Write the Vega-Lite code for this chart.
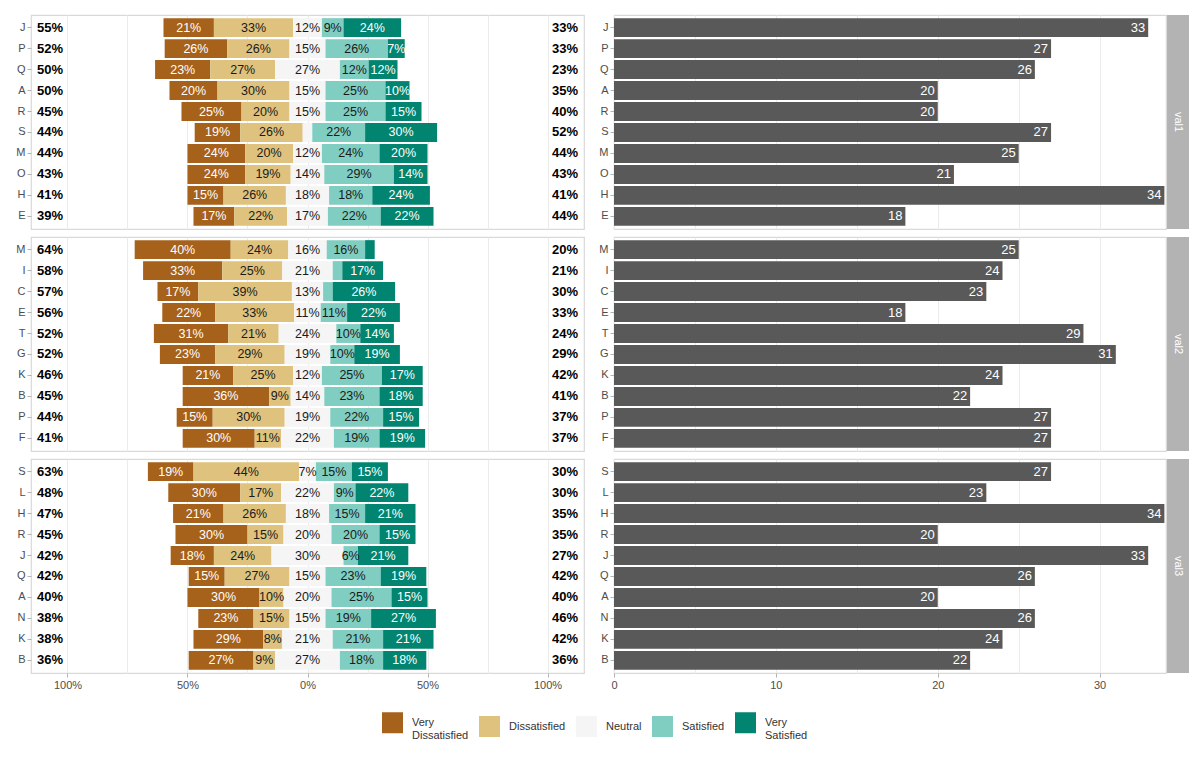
{
  "$schema": "https://vega.github.io/schema/vega-lite/v6.json",
  "padding": {"top": 14, "left": 15, "right": 10, "bottom": 10},
  "background": "white",
  "datasets": {
    "d": [
      {"g": "val1", "q": "J", "Very Dissatisfied": 21, "Dissatisfied": 33, "Neutral": 12, "Satisfied": 9, "Very Satisfied": 24, "lo": 55, "hi": 33, "n": 33},
      {"g": "val1", "q": "P", "Very Dissatisfied": 26, "Dissatisfied": 26, "Neutral": 15, "Satisfied": 26, "Very Satisfied": 7, "lo": 52, "hi": 33, "n": 27},
      {"g": "val1", "q": "Q", "Very Dissatisfied": 23, "Dissatisfied": 27, "Neutral": 27, "Satisfied": 12, "Very Satisfied": 12, "lo": 50, "hi": 23, "n": 26},
      {"g": "val1", "q": "A", "Very Dissatisfied": 20, "Dissatisfied": 30, "Neutral": 15, "Satisfied": 25, "Very Satisfied": 10, "lo": 50, "hi": 35, "n": 20},
      {"g": "val1", "q": "R", "Very Dissatisfied": 25, "Dissatisfied": 20, "Neutral": 15, "Satisfied": 25, "Very Satisfied": 15, "lo": 45, "hi": 40, "n": 20},
      {"g": "val1", "q": "S", "Very Dissatisfied": 19, "Dissatisfied": 26, "Neutral": 4, "Satisfied": 22, "Very Satisfied": 30, "lo": 44, "hi": 52, "n": 27},
      {"g": "val1", "q": "M", "Very Dissatisfied": 24, "Dissatisfied": 20, "Neutral": 12, "Satisfied": 24, "Very Satisfied": 20, "lo": 44, "hi": 44, "n": 25},
      {"g": "val1", "q": "O", "Very Dissatisfied": 24, "Dissatisfied": 19, "Neutral": 14, "Satisfied": 29, "Very Satisfied": 14, "lo": 43, "hi": 43, "n": 21},
      {"g": "val1", "q": "H", "Very Dissatisfied": 15, "Dissatisfied": 26, "Neutral": 18, "Satisfied": 18, "Very Satisfied": 24, "lo": 41, "hi": 41, "n": 34},
      {"g": "val1", "q": "E", "Very Dissatisfied": 17, "Dissatisfied": 22, "Neutral": 17, "Satisfied": 22, "Very Satisfied": 22, "lo": 39, "hi": 44, "n": 18},
      {"g": "val2", "q": "M", "Very Dissatisfied": 40, "Dissatisfied": 24, "Neutral": 16, "Satisfied": 16, "Very Satisfied": 4, "lo": 64, "hi": 20, "n": 25},
      {"g": "val2", "q": "I", "Very Dissatisfied": 33, "Dissatisfied": 25, "Neutral": 21, "Satisfied": 4, "Very Satisfied": 17, "lo": 58, "hi": 21, "n": 24},
      {"g": "val2", "q": "C", "Very Dissatisfied": 17, "Dissatisfied": 39, "Neutral": 13, "Satisfied": 4, "Very Satisfied": 26, "lo": 57, "hi": 30, "n": 23},
      {"g": "val2", "q": "E", "Very Dissatisfied": 22, "Dissatisfied": 33, "Neutral": 11, "Satisfied": 11, "Very Satisfied": 22, "lo": 56, "hi": 33, "n": 18},
      {"g": "val2", "q": "T", "Very Dissatisfied": 31, "Dissatisfied": 21, "Neutral": 24, "Satisfied": 10, "Very Satisfied": 14, "lo": 52, "hi": 24, "n": 29},
      {"g": "val2", "q": "G", "Very Dissatisfied": 23, "Dissatisfied": 29, "Neutral": 19, "Satisfied": 10, "Very Satisfied": 19, "lo": 52, "hi": 29, "n": 31},
      {"g": "val2", "q": "K", "Very Dissatisfied": 21, "Dissatisfied": 25, "Neutral": 12, "Satisfied": 25, "Very Satisfied": 17, "lo": 46, "hi": 42, "n": 24},
      {"g": "val2", "q": "B", "Very Dissatisfied": 36, "Dissatisfied": 9, "Neutral": 14, "Satisfied": 23, "Very Satisfied": 18, "lo": 45, "hi": 41, "n": 22},
      {"g": "val2", "q": "P", "Very Dissatisfied": 15, "Dissatisfied": 30, "Neutral": 19, "Satisfied": 22, "Very Satisfied": 15, "lo": 44, "hi": 37, "n": 27},
      {"g": "val2", "q": "F", "Very Dissatisfied": 30, "Dissatisfied": 11, "Neutral": 22, "Satisfied": 19, "Very Satisfied": 19, "lo": 41, "hi": 37, "n": 27},
      {"g": "val3", "q": "S", "Very Dissatisfied": 19, "Dissatisfied": 44, "Neutral": 7, "Satisfied": 15, "Very Satisfied": 15, "lo": 63, "hi": 30, "n": 27},
      {"g": "val3", "q": "L", "Very Dissatisfied": 30, "Dissatisfied": 17, "Neutral": 22, "Satisfied": 9, "Very Satisfied": 22, "lo": 48, "hi": 30, "n": 23},
      {"g": "val3", "q": "H", "Very Dissatisfied": 21, "Dissatisfied": 26, "Neutral": 18, "Satisfied": 15, "Very Satisfied": 21, "lo": 47, "hi": 35, "n": 34},
      {"g": "val3", "q": "R", "Very Dissatisfied": 30, "Dissatisfied": 15, "Neutral": 20, "Satisfied": 20, "Very Satisfied": 15, "lo": 45, "hi": 35, "n": 20},
      {"g": "val3", "q": "J", "Very Dissatisfied": 18, "Dissatisfied": 24, "Neutral": 30, "Satisfied": 6, "Very Satisfied": 21, "lo": 42, "hi": 27, "n": 33},
      {"g": "val3", "q": "Q", "Very Dissatisfied": 15, "Dissatisfied": 27, "Neutral": 15, "Satisfied": 23, "Very Satisfied": 19, "lo": 42, "hi": 42, "n": 26},
      {"g": "val3", "q": "A", "Very Dissatisfied": 30, "Dissatisfied": 10, "Neutral": 20, "Satisfied": 25, "Very Satisfied": 15, "lo": 40, "hi": 40, "n": 20},
      {"g": "val3", "q": "N", "Very Dissatisfied": 23, "Dissatisfied": 15, "Neutral": 15, "Satisfied": 19, "Very Satisfied": 27, "lo": 38, "hi": 46, "n": 26},
      {"g": "val3", "q": "K", "Very Dissatisfied": 29, "Dissatisfied": 8, "Neutral": 21, "Satisfied": 21, "Very Satisfied": 21, "lo": 38, "hi": 42, "n": 24},
      {"g": "val3", "q": "B", "Very Dissatisfied": 27, "Dissatisfied": 9, "Neutral": 27, "Satisfied": 18, "Very Satisfied": 18, "lo": 36, "hi": 36, "n": 22}
    ]
  },
  "data": {"name": "d"},
  "spacing": 6,
  "vconcat": [
    {
      "spacing": 13,
      "hconcat": [
        {
          "width": 553, "height": 214,
          "transform": [{"filter": "datum.g == 'val1'"}],
          "encoding": {"y": {"field": "q", "type": "nominal", "title": null, "sort": ["J","P","Q","A","R","S","M","O","H","E"], "scale": {"paddingInner": 0.1, "paddingOuter": 0.15}}},
          "layer": [
            {
              "transform": [
                {"fold": ["Very Dissatisfied","Dissatisfied","Neutral","Satisfied","Very Satisfied"], "as": ["cat","pct"]},
                {"calculate": "indexof(['Very Dissatisfied','Dissatisfied','Neutral','Satisfied','Very Satisfied'], datum.cat)", "as": "ord"},
                {"stack": "pct", "groupby": ["q"], "sort": [{"field": "ord", "order": "ascending"}], "as": ["s0","s1"], "offset": "zero"},
                {"calculate": "datum.ord < 2 ? datum.pct : (datum.ord == 2 ? datum.pct / 2 : 0)", "as": "neg"},
                {"joinaggregate": [{"op": "sum", "field": "neg", "as": "shift"}], "groupby": ["q"]},
                {"calculate": "datum.s0 - datum.shift", "as": "x0"},
                {"calculate": "datum.s1 - datum.shift", "as": "x1"},
                {"calculate": "(datum.x0 + datum.x1) / 2", "as": "xm"},
                {"calculate": "datum.pct + '%'", "as": "lab"}
              ],
              "layer": [
                {
                  "mark": {"type": "bar"},
                  "encoding": {
                    "x": {"field": "x0", "type": "quantitative", "scale": {"domain": [-115.2, 115.2], "nice": false, "zero": false},
                      "axis": {"values": [-100,-75,-50,-25,0,25,50,75,100], "labels": false, "ticks": false, "domain": false, "grid": true, "title": null}},
                    "x2": {"field": "x1"},
                    "color": {"field": "cat", "type": "nominal",
                      "scale": {"domain": ["Very Dissatisfied","Dissatisfied","Neutral","Satisfied","Very Satisfied"], "range": ["#a6611a","#dfc27d","#f5f5f5","#80cdc1","#018571"]},
                      "legend": {"title": null, "orient": "none", "legendX": 351, "legendY": 697, "direction": "horizontal", "padding": 0,
                        "labelExpr": "datum.label == 'Very Dissatisfied' ? ['Very', '\u00a0Dissatisfied'] : (datum.label == 'Very Satisfied' ? ['Very', '\u00a0Satisfied'] : datum.label)"}}
                  }
                },
                {
                  "transform": [{"filter": "datum.pct >= 5"}],
                  "mark": {"type": "text", "fontSize": 12.5},
                  "encoding": {
                    "x": {"field": "xm", "type": "quantitative"},
                    "text": {"field": "lab"},
                    "color": {"condition": {"test": "datum.ord == 0 || datum.ord == 4", "value": "#ffffff"}, "value": "#1a1a1a"}
                  }
                }
              ]
            },
            {
              "transform": [{"calculate": "datum.lo + '%'", "as": "lab"}],
              "mark": {"type": "text", "fontSize": 13, "fontWeight": "bold", "color": "#000000"},
              "encoding": {"x": {"datum": -107.3, "type": "quantitative"}, "text": {"field": "lab"}}
            },
            {
              "transform": [{"calculate": "datum.hi + '%'", "as": "lab"}],
              "mark": {"type": "text", "fontSize": 13, "fontWeight": "bold", "color": "#000000"},
              "encoding": {"x": {"datum": 107.3, "type": "quantitative"}, "text": {"field": "lab"}}
            }
          ]
        },
        {
          "spacing": 0,
          "hconcat": [
            {
              "width": 552, "height": 214,
              "transform": [{"filter": "datum.g == 'val1'"}],
              "encoding": {
                "y": {"field": "q", "type": "nominal", "title": null, "sort": ["J","P","Q","A","R","S","M","O","H","E"], "scale": {"paddingInner": 0.1, "paddingOuter": 0.15}},
                "x": {"field": "n", "type": "quantitative", "scale": {"domain": [0, 34.1], "nice": false},
                  "axis": {"values": [0,5,10,15,20,25,30], "labels": false, "ticks": false, "domain": false, "grid": true, "title": null}}
              },
              "layer": [
                {"mark": {"type": "bar", "color": "#595959"}},
                {"mark": {"type": "text", "align": "right", "dx": -3, "color": "#ffffff", "fontSize": 13}, "encoding": {"text": {"field": "n"}}}
              ]
            },
            {
              "width": 22, "height": 214,
              "view": {"fill": "#b3b3b3", "stroke": null},
              "transform": [{"filter": "datum.g == 'val1'"}, {"aggregate": [{"op": "count", "as": "c"}], "groupby": ["g"]}],
              "mark": {"type": "text", "angle": 90, "color": "#ffffff", "fontSize": 11},
              "encoding": {"text": {"field": "g"}}
            }
          ]
        }
      ]
    },
    {
      "spacing": 13,
      "hconcat": [
        {
          "width": 553, "height": 214,
          "transform": [{"filter": "datum.g == 'val2'"}],
          "encoding": {"y": {"field": "q", "type": "nominal", "title": null, "sort": ["M","I","C","E","T","G","K","B","P","F"], "scale": {"paddingInner": 0.1, "paddingOuter": 0.15}}},
          "layer": [
            {
              "transform": [
                {"fold": ["Very Dissatisfied","Dissatisfied","Neutral","Satisfied","Very Satisfied"], "as": ["cat","pct"]},
                {"calculate": "indexof(['Very Dissatisfied','Dissatisfied','Neutral','Satisfied','Very Satisfied'], datum.cat)", "as": "ord"},
                {"stack": "pct", "groupby": ["q"], "sort": [{"field": "ord", "order": "ascending"}], "as": ["s0","s1"], "offset": "zero"},
                {"calculate": "datum.ord < 2 ? datum.pct : (datum.ord == 2 ? datum.pct / 2 : 0)", "as": "neg"},
                {"joinaggregate": [{"op": "sum", "field": "neg", "as": "shift"}], "groupby": ["q"]},
                {"calculate": "datum.s0 - datum.shift", "as": "x0"},
                {"calculate": "datum.s1 - datum.shift", "as": "x1"},
                {"calculate": "(datum.x0 + datum.x1) / 2", "as": "xm"},
                {"calculate": "datum.pct + '%'", "as": "lab"}
              ],
              "layer": [
                {
                  "mark": {"type": "bar"},
                  "encoding": {
                    "x": {"field": "x0", "type": "quantitative", "scale": {"domain": [-115.2, 115.2], "nice": false, "zero": false},
                      "axis": {"values": [-100,-75,-50,-25,0,25,50,75,100], "labels": false, "ticks": false, "domain": false, "grid": true, "title": null}},
                    "x2": {"field": "x1"},
                    "color": {"field": "cat", "type": "nominal",
                      "scale": {"domain": ["Very Dissatisfied","Dissatisfied","Neutral","Satisfied","Very Satisfied"], "range": ["#a6611a","#dfc27d","#f5f5f5","#80cdc1","#018571"]},
                      "legend": {"title": null, "orient": "none", "legendX": 351, "legendY": 697, "direction": "horizontal", "padding": 0,
                        "labelExpr": "datum.label == 'Very Dissatisfied' ? ['Very', '\u00a0Dissatisfied'] : (datum.label == 'Very Satisfied' ? ['Very', '\u00a0Satisfied'] : datum.label)"}}
                  }
                },
                {
                  "transform": [{"filter": "datum.pct >= 5"}],
                  "mark": {"type": "text", "fontSize": 12.5},
                  "encoding": {
                    "x": {"field": "xm", "type": "quantitative"},
                    "text": {"field": "lab"},
                    "color": {"condition": {"test": "datum.ord == 0 || datum.ord == 4", "value": "#ffffff"}, "value": "#1a1a1a"}
                  }
                }
              ]
            },
            {
              "transform": [{"calculate": "datum.lo + '%'", "as": "lab"}],
              "mark": {"type": "text", "fontSize": 13, "fontWeight": "bold", "color": "#000000"},
              "encoding": {"x": {"datum": -107.3, "type": "quantitative"}, "text": {"field": "lab"}}
            },
            {
              "transform": [{"calculate": "datum.hi + '%'", "as": "lab"}],
              "mark": {"type": "text", "fontSize": 13, "fontWeight": "bold", "color": "#000000"},
              "encoding": {"x": {"datum": 107.3, "type": "quantitative"}, "text": {"field": "lab"}}
            }
          ]
        },
        {
          "spacing": 0,
          "hconcat": [
            {
              "width": 552, "height": 214,
              "transform": [{"filter": "datum.g == 'val2'"}],
              "encoding": {
                "y": {"field": "q", "type": "nominal", "title": null, "sort": ["M","I","C","E","T","G","K","B","P","F"], "scale": {"paddingInner": 0.1, "paddingOuter": 0.15}},
                "x": {"field": "n", "type": "quantitative", "scale": {"domain": [0, 34.1], "nice": false},
                  "axis": {"values": [0,5,10,15,20,25,30], "labels": false, "ticks": false, "domain": false, "grid": true, "title": null}}
              },
              "layer": [
                {"mark": {"type": "bar", "color": "#595959"}},
                {"mark": {"type": "text", "align": "right", "dx": -3, "color": "#ffffff", "fontSize": 13}, "encoding": {"text": {"field": "n"}}}
              ]
            },
            {
              "width": 22, "height": 214,
              "view": {"fill": "#b3b3b3", "stroke": null},
              "transform": [{"filter": "datum.g == 'val2'"}, {"aggregate": [{"op": "count", "as": "c"}], "groupby": ["g"]}],
              "mark": {"type": "text", "angle": 90, "color": "#ffffff", "fontSize": 11},
              "encoding": {"text": {"field": "g"}}
            }
          ]
        }
      ]
    },
    {
      "spacing": 13,
      "hconcat": [
        {
          "width": 553, "height": 214,
          "transform": [{"filter": "datum.g == 'val3'"}],
          "encoding": {"y": {"field": "q", "type": "nominal", "title": null, "sort": ["S","L","H","R","J","Q","A","N","K","B"], "scale": {"paddingInner": 0.1, "paddingOuter": 0.15}}},
          "layer": [
            {
              "transform": [
                {"fold": ["Very Dissatisfied","Dissatisfied","Neutral","Satisfied","Very Satisfied"], "as": ["cat","pct"]},
                {"calculate": "indexof(['Very Dissatisfied','Dissatisfied','Neutral','Satisfied','Very Satisfied'], datum.cat)", "as": "ord"},
                {"stack": "pct", "groupby": ["q"], "sort": [{"field": "ord", "order": "ascending"}], "as": ["s0","s1"], "offset": "zero"},
                {"calculate": "datum.ord < 2 ? datum.pct : (datum.ord == 2 ? datum.pct / 2 : 0)", "as": "neg"},
                {"joinaggregate": [{"op": "sum", "field": "neg", "as": "shift"}], "groupby": ["q"]},
                {"calculate": "datum.s0 - datum.shift", "as": "x0"},
                {"calculate": "datum.s1 - datum.shift", "as": "x1"},
                {"calculate": "(datum.x0 + datum.x1) / 2", "as": "xm"},
                {"calculate": "datum.pct + '%'", "as": "lab"}
              ],
              "layer": [
                {
                  "mark": {"type": "bar"},
                  "encoding": {
                    "x": {"field": "x0", "type": "quantitative", "scale": {"domain": [-115.2, 115.2], "nice": false, "zero": false},
                      "axis": {"values": [-100,-75,-50,-25,0,25,50,75,100], "grid": true, "title": null, "domain": false, "labelFlush": false,
                        "labelExpr": "datum.value % 50 == 0 ? abs(datum.value) + '%' : ''",
                        "tickColor": {"condition": {"test": "datum.value % 50 == 0", "value": "#b3b3b3"}, "value": "rgba(0,0,0,0)"}}},
                    "x2": {"field": "x1"},
                    "color": {"field": "cat", "type": "nominal",
                      "scale": {"domain": ["Very Dissatisfied","Dissatisfied","Neutral","Satisfied","Very Satisfied"], "range": ["#a6611a","#dfc27d","#f5f5f5","#80cdc1","#018571"]},
                      "legend": {"title": null, "orient": "none", "legendX": 351, "legendY": 697, "direction": "horizontal", "padding": 0,
                        "labelExpr": "datum.label == 'Very Dissatisfied' ? ['Very', '\u00a0Dissatisfied'] : (datum.label == 'Very Satisfied' ? ['Very', '\u00a0Satisfied'] : datum.label)"}}
                  }
                },
                {
                  "transform": [{"filter": "datum.pct >= 5"}],
                  "mark": {"type": "text", "fontSize": 12.5},
                  "encoding": {
                    "x": {"field": "xm", "type": "quantitative"},
                    "text": {"field": "lab"},
                    "color": {"condition": {"test": "datum.ord == 0 || datum.ord == 4", "value": "#ffffff"}, "value": "#1a1a1a"}
                  }
                }
              ]
            },
            {
              "transform": [{"calculate": "datum.lo + '%'", "as": "lab"}],
              "mark": {"type": "text", "fontSize": 13, "fontWeight": "bold", "color": "#000000"},
              "encoding": {"x": {"datum": -107.3, "type": "quantitative"}, "text": {"field": "lab"}}
            },
            {
              "transform": [{"calculate": "datum.hi + '%'", "as": "lab"}],
              "mark": {"type": "text", "fontSize": 13, "fontWeight": "bold", "color": "#000000"},
              "encoding": {"x": {"datum": 107.3, "type": "quantitative"}, "text": {"field": "lab"}}
            }
          ]
        },
        {
          "spacing": 0,
          "hconcat": [
            {
              "width": 552, "height": 214,
              "transform": [{"filter": "datum.g == 'val3'"}],
              "encoding": {
                "y": {"field": "q", "type": "nominal", "title": null, "sort": ["S","L","H","R","J","Q","A","N","K","B"], "scale": {"paddingInner": 0.1, "paddingOuter": 0.15}},
                "x": {"field": "n", "type": "quantitative", "scale": {"domain": [0, 34.1], "nice": false},
                  "axis": {"values": [0,5,10,15,20,25,30], "grid": true, "title": null, "domain": false, "labelFlush": false,
                    "labelExpr": "datum.value % 10 == 0 ? datum.label : ''",
                    "tickColor": {"condition": {"test": "datum.value % 10 == 0", "value": "#b3b3b3"}, "value": "rgba(0,0,0,0)"}}}
              },
              "layer": [
                {"mark": {"type": "bar", "color": "#595959"}},
                {"mark": {"type": "text", "align": "right", "dx": -3, "color": "#ffffff", "fontSize": 13}, "encoding": {"text": {"field": "n"}}}
              ]
            },
            {
              "width": 22, "height": 214,
              "view": {"fill": "#b3b3b3", "stroke": null},
              "transform": [{"filter": "datum.g == 'val3'"}, {"aggregate": [{"op": "count", "as": "c"}], "groupby": ["g"]}],
              "mark": {"type": "text", "angle": 90, "color": "#ffffff", "fontSize": 11},
              "encoding": {"text": {"field": "g"}}
            }
          ]
        }
      ]
    }
  ],
  "config": {
    "font": "Liberation Sans",
    "view": {"stroke": "#d9d9d9", "strokeWidth": 1.2},
    "axis": {"domain": false, "labelColor": "#4d4d4d", "labelFontSize": 11, "tickColor": "#b3b3b3", "tickSize": 4, "labelPadding": 2, "gridColor": "#ebebeb", "gridWidth": 1},
    "axisY": {"grid": false},
    "legend": {
      "symbolType": "square", "symbolSize": 441, "symbolStrokeWidth": 0, "symbolOpacity": 1,
      "labelFontSize": 11, "labelColor": "#333333", "labelOffset": 9, "columnPadding": 10
    }
  }
}
